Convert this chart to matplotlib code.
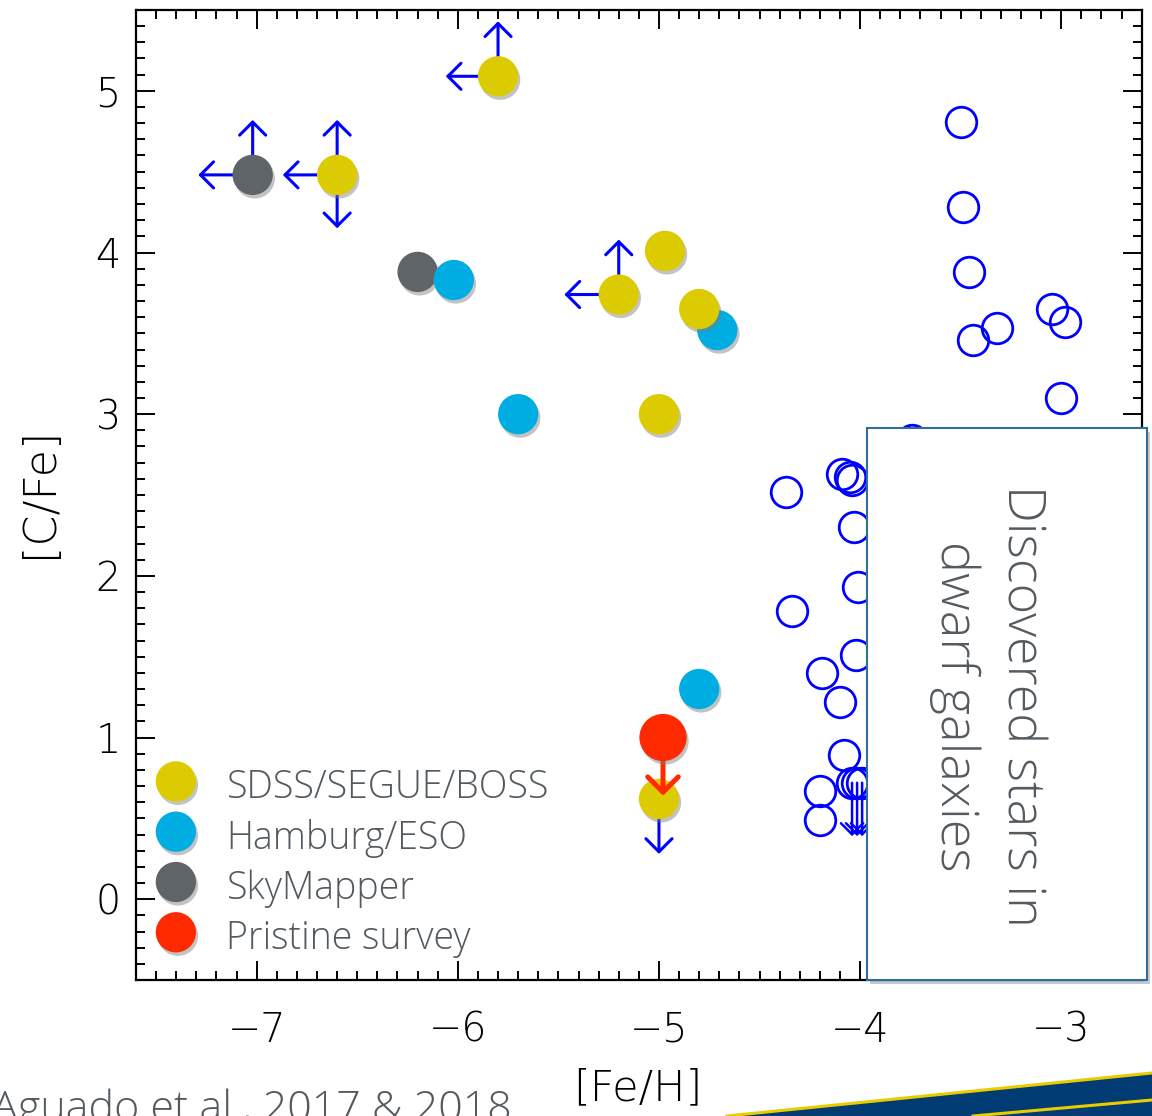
import numpy as np
import matplotlib
matplotlib.use('Agg')
import matplotlib.pyplot as plt
import matplotlib.patheffects as pe
from matplotlib.patches import Rectangle, Polygon
from matplotlib.lines import Line2D
from matplotlib.ticker import MultipleLocator

# --- Daten ---
sdss_feh = [-5.80, -6.60, -4.97, -5.20, -4.80, -5.00, -5.00]
sdss_cfe = [5.09, 4.48, 4.01, 3.74, 3.65, 3.00, 0.62]
hes_feh = [-6.02, -4.71, -5.70, -4.80]
hes_cfe = [3.83, 3.52, 3.00, 1.30]
sky_feh = [-7.02, -6.20]
sky_cfe = [4.48, 3.88]
pri_feh = [-4.98]
pri_cfe = [1.00]

dwarf_feh = [-3.50, -3.49, -3.46, -3.44, -3.32, -3.045, -2.98, -3.00, -3.74,
             -4.37, -4.09, -4.05, -4.04, -4.03, -4.01, -4.34, -4.02, -4.19,
             -4.10, -4.08, -4.20, -4.20, -4.04, -4.015, -3.99]
dwarf_cfe = [4.81, 4.28, 3.88, 3.46, 3.53, 3.65, 3.57, 3.10, 2.84,
             2.52, 2.63, 2.61, 2.59, 2.30, 1.93, 1.78, 1.51, 1.40,
             1.22, 0.89, 0.67, 0.49, 0.72, 0.72, 0.72]

# Grenzwerte: (x, y, Spitze)
left_limits = [(-5.80, 5.09, -6.06), (-6.60, 4.48, -6.87), (-7.02, 4.48, -7.29), (-5.20, 3.74, -5.47)]
up_limits = [(-5.80, 5.09, 5.43), (-6.60, 4.48, 4.82), (-7.02, 4.48, 4.82), (-5.20, 3.74, 4.08)]
down_limits = [(-6.60, 4.48, 4.15), (-5.00, 0.62, 0.28)]
dwarf_down = [(-4.04, 0.72, 0.39), (-4.015, 0.72, 0.39), (-3.99, 0.72, 0.39)]
pri_down = [(-4.98, 1.00, 0.64)]

c_sdss = '#dccb00'
c_hes = '#00ade2'
c_sky = '#5f6469'
c_pri = '#ff2a00'
c_lim = '#0000ff'
c_txt = '#535a5f'

fig = plt.figure(figsize=(11.52, 11.16), dpi=100)
ax = fig.add_axes([136/1152, 1-980/1116, (1141.7-136)/1152, 970/1116])

shadow = [pe.SimplePatchShadow(offset=(1.5, -2.5), shadow_rgbFace='#7a7a7a', alpha=0.45), pe.Normal()]


def arrow(x0, y0, x1, y1, color=c_lim, lw=2.2, z=3, hs=0.47):
    ax.annotate('', xy=(x1, y1), xytext=(x0, y0),
                arrowprops=dict(arrowstyle='->,head_length=%g,head_width=%g' % (hs, hs),
                                color=color, lw=lw, mutation_scale=20,
                                shrinkA=0, shrinkB=0),
                zorder=z)


# Zwerggalaxien (offene Kreise)
ax.plot(dwarf_feh, dwarf_cfe, 'o', ms=22, mfc='none', mec=c_lim, mew=2.0, zorder=2)
for x, y, t in dwarf_down:
    arrow(x, y, x, t, z=2, lw=1.8, hs=0.4)

for x, y, t in left_limits:
    arrow(x, y, t, y)
for x, y, t in up_limits:
    arrow(x, y, x, t)
for x, y, t in down_limits:
    arrow(x, y, x, t)

h_sky, = ax.plot(sky_feh, sky_cfe, 'o', ms=29, color=c_sky, mec='none', zorder=4, path_effects=shadow)
h_hes, = ax.plot(hes_feh, hes_cfe, 'o', ms=29, color=c_hes, mec='none', zorder=4.1, path_effects=shadow)
h_sdss, = ax.plot(sdss_feh, sdss_cfe, 'o', ms=29, color=c_sdss, mec='none', zorder=4.2, path_effects=shadow)
for x, y, t in pri_down:
    arrow(x, y, x, t, color=c_pri, lw=3.6, z=5, hs=0.55)
h_pri, = ax.plot(pri_feh, pri_cfe, 'o', ms=34, color=c_pri, mec='none', zorder=6, path_effects=shadow)

ax.set_xlim(-7.6, -2.6)
ax.set_ylim(-0.5, 5.5)
ax.xaxis.set_major_locator(MultipleLocator(1))
ax.xaxis.set_minor_locator(MultipleLocator(0.1))
ax.yaxis.set_major_locator(MultipleLocator(1))
ax.yaxis.set_minor_locator(MultipleLocator(0.1))
ax.tick_params(which='both', direction='in', top=True, right=True, width=1.4)
ax.tick_params(which='major', length=13.7)
ax.tick_params(which='minor', length=6.7)
ax.tick_params(axis='x', which='major', pad=22)
ax.tick_params(axis='y', which='major', pad=11)
for lab in ax.get_xticklabels() + ax.get_yticklabels():
    lab.set_fontfamily('DejaVu Sans')
    lab.set_fontweight(200)
    lab.set_fontsize(28.5)
for s in ax.spines.values():
    s.set_linewidth(1.6)

leg = ax.legend([h_sdss, h_hes, h_sky, h_pri],
                ['SDSS/SEGUE/BOSS', 'Hamburg/ESO', 'SkyMapper', 'Pristine survey'],
                loc='lower left', bbox_to_anchor=(0.021, 0.0225), borderpad=0, borderaxespad=0,
                frameon=False, handlelength=1.0, handleheight=1.37, labelspacing=0.2,
                handletextpad=0.85, markerscale=1.0,
                prop={'family': 'Open Sans', 'weight': 'light', 'size': 27})
for t in leg.get_texts():
    t.set_color(c_txt)
for h in leg.legend_handles:
    h.set_markersize(29)

# Achsenbeschriftungen
fig.text(40/1152, 1-492/1116, '[C/Fe]', rotation=90, ha='center', va='center',
         fontsize=32, fontfamily='DejaVu Sans', fontweight=200)
fig.text(638/1152, 1-1088/1116, '[Fe/H]', ha='center', va='center',
         fontsize=31, fontfamily='DejaVu Sans', fontweight=200)

# Kasten mit Hinweis
box = Rectangle((867/1152, 1-980/1116), (1147-867)/1152, (980-428)/1116,
                transform=fig.transFigure, facecolor='white', edgecolor='#2f6e9b', lw=1.5,
                zorder=5, path_effects=[pe.SimplePatchShadow(offset=(2, -3), alpha=0.3), pe.Normal()])
fig.add_artist(box)
fig.text(988/1152, 1-706/1116, 'Discovered stars in\ndwarf galaxies', rotation=270,
         ha='center', va='center', multialignment='center', linespacing=1.4,
         fontsize=37.5, fontfamily='Open Sans', fontweight='light', color=c_txt, zorder=6)

# Quelle unten links
fig.text(-8/1152, 1-1121/1116, 'Aguado et al., 2017 & 2018', ha='left', va='baseline',
         fontsize=31, fontfamily='Open Sans', fontweight='light', color=c_txt)

# Folien-Dekoration unten rechts
navy = Polygon([(727/1152, 0), (1, 1-1073/1116), (1, 0)], closed=True,
               transform=fig.transFigure, facecolor='#003b73', edgecolor='none', zorder=1)
fig.add_artist(navy)
fig.add_artist(Line2D([727/1152, 1], [0, 1-1073/1116], transform=fig.transFigure,
                      color='#e8cc00', lw=2.2, zorder=2))
fig.add_artist(Line2D([973/1152, 1], [0, 1-1100/1116], transform=fig.transFigure,
                      color='#e8cc00', lw=2.2, zorder=2))

fig.savefig('out.png', dpi=100)
